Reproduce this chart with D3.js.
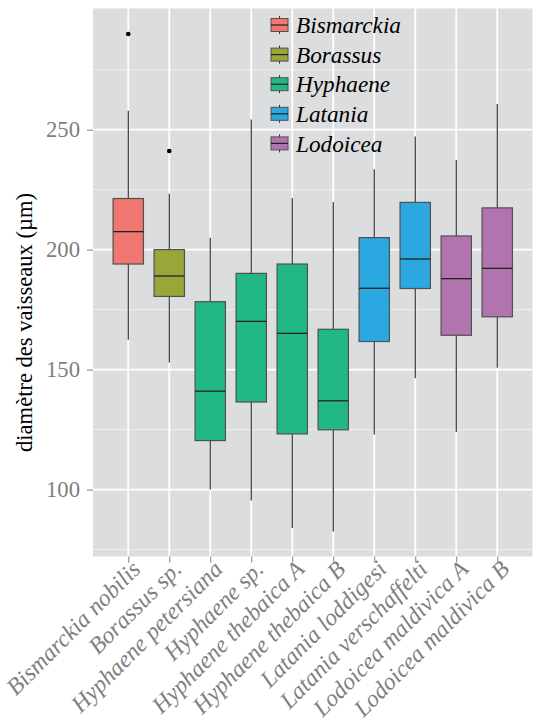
<!DOCTYPE html>
<html><head><meta charset="utf-8">
<script src="https://cdn.jsdelivr.net/npm/d3@7"></script>
<style>body{margin:0;background:#fff}svg{display:block}
svg text{font-family:"Liberation Serif","Times New Roman",Times,"DejaVu Serif",serif !important;}
</style>
</head><body>
<script>
const categories = ["Bismarckia nobilis","Borassus sp.","Hyphaene petersiana","Hyphaene sp.","Hyphaene thebaica A","Hyphaene thebaica B","Latania loddigesi","Latania verschaffelti","Lodoicea maldivica A","Lodoicea maldivica B"];
const genus = ["Bismarckia","Borassus","Hyphaene","Hyphaene","Hyphaene","Hyphaene","Latania","Latania","Lodoicea","Lodoicea"];
const whiskerLow  = [162.4,153.0,100.0, 95.4, 84.0, 82.5,122.9,146.4,124.0,150.8];
const q1          = [194.0,180.5,120.4,136.5,123.2,124.9,161.7,183.8,164.3,172.0];
const median      = [207.5,189.0,141.0,170.1,165.1,137.0,183.9,196.1,187.9,192.2];
const q3          = [221.3,200.0,178.3,190.1,194.0,166.8,205.0,219.7,205.7,217.4];
const whiskerHigh = [257.9,223.3,204.9,254.2,221.5,219.9,233.5,247.1,237.4,260.7];
const outliers    = [[289.9],[241.1],[],[],[],[],[],[],[],[]];
const legendGenera = ["Bismarckia","Borassus","Hyphaene","Latania","Lodoicea"];
const genusColors  = ["#F07670","#9BA63A","#22B884","#2BA8DF","#B174AE"];
const yTicks = [100,150,200,250];
const yMinor = [75,125,175,225,275];
const yTitle = "diamètre des vaisseaux (µm)";

const W=533,H=725;
const P={left:93,right:532.5,top:8.5,bottom:556.5};
const svg=d3.select("body").append("svg").attr("width",W).attr("height",H);

// choose a font size so that a sample string has the width seen in the reference
function fitSize(sample, target, base, italic){
  const t=svg.append("text").style("font-size",base+"px").style("font-style",italic?"italic":"normal").text(sample);
  const w=t.node().getComputedTextLength(); t.remove();
  const s=base*target/w;
  return Math.max(base*0.8,Math.min(base*1.2,s));
}
const fsTitle=fitSize(yTitle,259,22.5,false);
const fsLegend=fitSize("Bismarckia",105,23,true);
const fsX=fitSize("Bismarckia nobilis",178,24,true);
const fsY=fitSize("250",34,23,false);

const x=d3.scalePoint().domain(categories).range([P.left,P.right]).padding(0.86);
const y=d3.scaleLinear().domain([72.1,300.5]).range([P.bottom,P.top]);
const color=d3.scaleOrdinal().domain(legendGenera).range(genusColors);
const step=x.step();
const bw=step*0.74;

svg.append("rect").attr("x",P.left).attr("y",P.top).attr("width",P.right-P.left).attr("height",P.bottom-P.top).attr("fill","#DCDDDF");
svg.selectAll(".gmin").data(yMinor).join("line").attr("x1",P.left).attr("x2",P.right)
 .attr("y1",d=>y(d)).attr("y2",d=>y(d)).attr("stroke","#F0F0F2").attr("stroke-width",1);
svg.selectAll(".gmaj").data(yTicks).join("line").attr("x1",P.left).attr("x2",P.right)
 .attr("y1",d=>y(d)).attr("y2",d=>y(d)).attr("stroke","#fff").attr("stroke-width",1.8);
svg.selectAll(".gx").data(categories).join("line").attr("y1",P.top).attr("y2",P.bottom)
 .attr("x1",d=>x(d)).attr("x2",d=>x(d)).attr("stroke","#fff").attr("stroke-width",1.8);

const yAxis=svg.append("g").attr("transform",`translate(${P.left},0)`)
 .call(d3.axisLeft(y).tickValues(yTicks).tickSize(6).tickPadding(7).tickFormat(d3.format("d")));
yAxis.attr("font-family",null);
yAxis.select(".domain").remove();
yAxis.selectAll("line").attr("stroke","#7F7F7F");
yAxis.selectAll("text").attr("fill","#7F7F7F").style("font-size",fsY+"px");

const xAxis=svg.append("g").attr("transform",`translate(0,${P.bottom})`)
 .call(d3.axisBottom(x).tickSize(6).tickFormat(d=>d));
xAxis.attr("font-family",null);
xAxis.select(".domain").remove();
xAxis.selectAll("line").attr("stroke","#7F7F7F");
xAxis.selectAll("text").attr("fill","#7F7F7F").style("font-size",fsX+"px")
 .style("font-style","italic").attr("text-anchor","end")
 .attr("transform","translate(1,2) rotate(-45)").attr("dy","0.72em").attr("y",0).attr("x",0);

const data=categories.map((c,i)=>({c,g:genus[i],lo:whiskerLow[i],q1:q1[i],md:median[i],q3:q3[i],hi:whiskerHigh[i],out:outliers[i]}));
const gb=svg.append("g");
data.forEach(d=>{
  const cx=x(d.c);
  gb.append("line").attr("x1",cx).attr("x2",cx).attr("y1",y(d.q3)).attr("y2",y(d.hi)).attr("stroke","#222").attr("stroke-width",1.1);
  gb.append("line").attr("x1",cx).attr("x2",cx).attr("y1",y(d.q1)).attr("y2",y(d.lo)).attr("stroke","#222").attr("stroke-width",1.1);
  gb.append("rect").attr("x",cx-bw/2).attr("width",bw).attr("y",y(d.q3)).attr("height",y(d.q1)-y(d.q3))
    .attr("fill",color(d.g)).attr("stroke","#505050").attr("stroke-width",1.2);
  gb.append("line").attr("x1",cx-bw/2).attr("x2",cx+bw/2).attr("y1",y(d.md)).attr("y2",y(d.md)).attr("stroke","#222").attr("stroke-width",1.3);
  d.out.forEach(o=>gb.append("circle").attr("cx",cx).attr("cy",y(o)).attr("r",2.3).attr("fill","#000"));
});

svg.append("text").attr("transform","translate(32,322.5) rotate(-90)").attr("text-anchor","middle")
 .style("font-size",fsTitle+"px").attr("fill","#000").text(yTitle);

const lg=svg.append("g");
legendGenera.forEach((g,i)=>{
  const cy=25+i*29.6, kx=271;
  lg.append("line").attr("x1",kx+8.5).attr("x2",kx+8.5).attr("y1",cy-9).attr("y2",cy+9).attr("stroke","#333").attr("stroke-width",1);
  lg.append("rect").attr("x",kx).attr("y",cy-6.5).attr("width",17).attr("height",13).attr("fill",color(g)).attr("stroke","#505050").attr("stroke-width",1);
  lg.append("line").attr("x1",kx).attr("x2",kx+17).attr("y1",cy).attr("y2",cy).attr("stroke","#222").attr("stroke-width",1.2);
  lg.append("text").attr("x",296).attr("y",cy).attr("dy","0.35em").style("font-size",fsLegend+"px")
    .style("font-style","italic").attr("fill","#000").text(g);
});
</script>
</body></html>
